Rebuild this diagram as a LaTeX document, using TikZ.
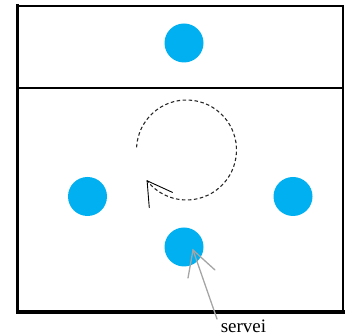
\documentclass[tikz,border=0pt]{standalone}
\usepackage{fontspec}
\setmainfont{Liberation Serif}
\begin{document}
\begin{tikzpicture}[x=1pt,y=1pt,
  player/.style={circle,fill=playerblue,draw=none,minimum size=39pt,inner sep=0pt},
  court/.style={black,line cap=rect},
  pointer/.style={draw=pointergray,line width=1.3pt,line cap=round},
  runline/.style={draw=runcolor,line width=1.1pt,dash pattern=on 3.5pt off 2.5pt}]
\definecolor{playerblue}{RGB}{0,176,240}
\definecolor{pointergray}{RGB}{165,165,165}
\definecolor{runcolor}{RGB}{40,40,40}
\useasboundingbox (0,0) rectangle (345,336);
% court
\draw[court,line width=3.2pt] (17.5,24) -- (17.5,330);
\draw[court,line width=2.8pt] (17.5,330) -- (343,330);
\draw[court,line width=1.8pt] (343,330) -- (343,24);
\draw[court,line width=4pt] (17.5,24) -- (343,24);
\draw[court,line width=2.6pt] (17.5,248) -- (343,248);
% players
\node[player] (ptop) at (184,293) {};
\node[player] (pleft) at (87.5,139.5) {};
\node[player] (pright) at (293,139.5) {};
\node[player] (pbottom) at (184,89) {};
% rotation arc
\coordinate (rc) at (186.5,186);
\draw[runline] (rc) ++(177:50) arc (177:-142:50) coordinate (rtip);
\coordinate (rb1) at (172.7,143.5);
\coordinate (rb2) at (149.3,128);
\draw[black,line width=0.9pt] (rb1) -- (rtip) -- (rb2);
% label
\node[font=\fontsize{19}{20}\selectfont,anchor=base,inner sep=0pt] (lab) at (243.5,3.5) {servei};
\coordinate (stip) at (193,86);
\coordinate (stail) at (217,17);
\coordinate (sb1) at (188,58);
\coordinate (sb2) at (215,66);
\draw[pointer] (stail) -- (stip);
\draw[pointer] (sb1) -- (stip) -- (sb2);
\end{tikzpicture}
\end{document}
